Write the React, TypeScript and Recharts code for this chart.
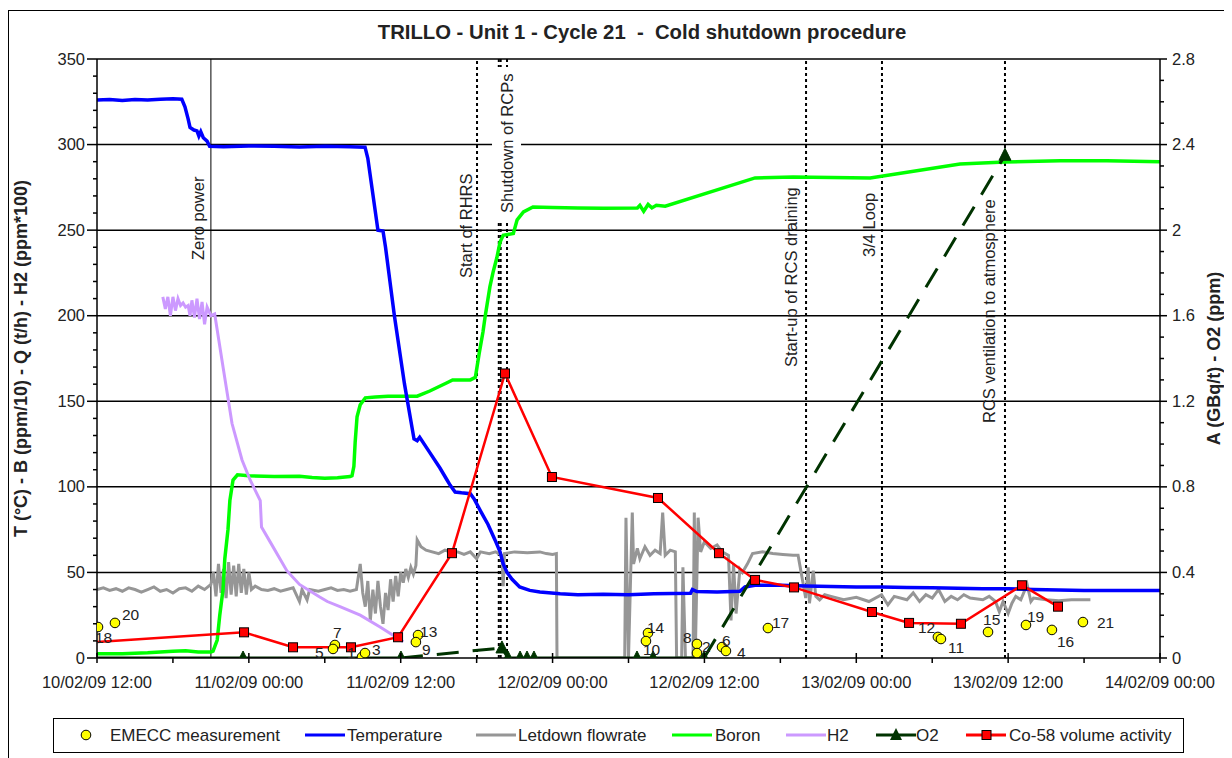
import {
  CartesianGrid,
  ComposedChart,
  Line,
  ReferenceLine,
  Scatter,
  XAxis,
  YAxis,
} from "recharts";

const FONT = "Arial, 'Liberation Sans', Helvetica, sans-serif";
const INK = "#222";

// x is hours after 10/02/09 12:00
const xTickHours = [0, 6, 12, 18, 24, 30, 36, 42, 48, 54, 60, 66, 72, 78, 84];
const xMajorHours = [0, 12, 24, 36, 48, 60, 72, 84];
const xTickLabels = [
  "10/02/09 12:00",
  "11/02/09 00:00",
  "11/02/09 12:00",
  "12/02/09 00:00",
  "12/02/09 12:00",
  "13/02/09 00:00",
  "13/02/09 12:00",
  "14/02/09 00:00",
];

const leftTicks = [
  0, 10, 20, 30, 40, 50, 60, 70, 80, 90, 100, 110, 120, 130, 140, 150, 160, 170,
  180, 190, 200, 210, 220, 230, 240, 250, 260, 270, 280, 290, 300, 310, 320, 330,
  340, 350,
];
const leftGridValues = [50, 100, 150, 200, 250, 300, 350];
const rightTicks = [
  0, 0.1, 0.2, 0.3, 0.4, 0.5, 0.6, 0.7, 0.8, 0.9, 1, 1.1, 1.2, 1.3, 1.4, 1.5,
  1.6, 1.7, 1.8, 1.9, 2, 2.1, 2.2, 2.3, 2.4, 2.5, 2.6, 2.7, 2.8,
];

type Pt = [number, number];

const temperature: Pt[] = [
  [0, 326], [1, 326.4], [2, 325.8], [3, 326.3], [4, 326], [5, 326.5], [6, 326.8],
  [6.7, 326.5], [6.95, 322], [7.2, 315], [7.35, 310], [7.66, 308.5], [7.9, 308],
  [8.05, 305], [8.2, 307.5], [8.4, 304], [8.7, 302], [8.9, 299], [10, 298.8],
  [12, 299.2], [14, 299], [16, 298.6], [18, 299], [20, 298.7], [21.18, 298.5],
  [21.4, 292], [22.2, 250], [22.6, 249.5], [22.8, 240], [23.5, 200], [24.3, 160],
  [25.05, 128], [25.3, 127], [25.5, 129], [26.3, 120], [27.1, 111], [27.66, 104],
  [27.9, 101], [28.3, 97], [28.8, 96.5], [29.5, 96], [29.8, 93], [30.3, 86],
  [30.9, 78], [31.45, 69], [31.85, 62], [32.1, 55], [32.4, 50], [32.8, 46],
  [33.4, 41.5], [34.2, 39.5], [35, 38.6], [36.6, 37.5], [38, 37], [40, 37.2],
  [42, 37], [44, 37.5], [46.9, 37.8], [47.05, 40], [47.4, 38.8], [49, 38.5],
  [50.8, 39], [51.2, 41.5], [52, 42.5], [54, 42.5], [56, 42], [58, 41.8],
  [60, 41.5], [62, 41.5], [64, 41.2], [66, 41], [68, 40.8], [70, 40.5],
  [72, 40.5], [74, 40], [76, 39.8], [78, 39.5], [84, 39.5],
];

const letdownFlow: Pt[] = [
  [0, 40], [0.5, 41], [1, 39.5], [1.5, 40.5], [2, 39], [2.5, 41], [3, 40],
  [3.5, 38.5], [4, 40], [4.5, 41.5], [5, 39], [5.5, 40], [6, 38], [6.5, 40.5],
  [7, 41], [7.5, 39], [8, 42], [8.5, 40], [9, 43], [9.2, 50], [9.4, 36],
  [9.6, 55], [9.8, 38], [10, 52], [10.2, 35], [10.4, 56], [10.6, 37], [10.8, 54],
  [11, 36], [11.2, 55], [11.4, 38], [11.6, 52], [11.8, 37], [12, 50], [12.2, 40],
  [12.5, 42], [13, 40], [13.5, 39.5], [14, 40.5], [14.5, 39], [15, 40],
  [15.5, 41], [16, 33], [16.2, 40], [16.6, 34], [16.8, 40], [17.5, 39], [18, 40],
  [18.5, 41], [19, 39.5], [19.5, 40], [20, 39], [20.5, 40], [20.8, 55], [21, 38],
  [21.2, 30], [21.4, 45], [21.6, 22], [21.8, 40], [22, 26], [22.2, 45],
  [22.4, 30], [22.6, 20], [22.8, 38], [23, 28], [23.2, 46], [23.4, 33],
  [23.6, 48], [23.8, 36], [24, 50], [24.2, 44], [24.4, 52], [24.6, 47],
  [24.8, 53], [25, 49], [25.2, 54], [25.3, 69], [25.6, 65], [26, 63], [27, 61],
  [27.5, 63], [28, 62], [28.5, 62], [29, 60.5], [29.5, 62], [30, 58], [30.3, 62],
  [31, 61], [31.5, 62], [32, 60], [32.1, 42], [32.2, 61], [33, 62], [34, 61.5],
  [35, 62], [35.5, 61], [36, 60.5], [36.3, 61], [36.35, 0], [41.7, 0], [41.8, 82],
  [42, 0], [42.3, 85], [42.4, 55], [42.7, 64], [42.9, 58], [43.3, 65], [43.7, 60],
  [44.1, 63], [44.5, 61], [44.7, 85], [44.9, 60], [45.3, 63], [45.7, 62],
  [45.8, 0], [46.2, 0], [46.3, 53], [46.5, 0], [47.1, 0], [47.2, 85], [47.3, 10],
  [47.5, 82], [47.7, 62], [48, 68], [48.5, 64], [49, 66], [49.4, 62], [49.9, 60],
  [50.1, 22], [50.3, 55], [50.5, 26], [50.8, 52], [51, 50], [51.4, 55],
  [51.8, 61], [52.6, 62], [53.4, 61], [54.2, 60.5], [55, 60], [55.4, 60],
  [56, 35], [56.2, 53], [56.3, 32], [56.6, 51], [56.8, 36], [57.1, 34],
  [57.5, 37], [58, 36], [59, 34], [60, 35.5], [61, 33], [62, 37], [62.5, 31],
  [63, 36], [64, 34], [64.5, 38], [65, 33], [65.5, 37], [66, 35], [66.5, 40],
  [67, 33], [67.5, 36], [68, 34], [68.5, 37], [69, 35], [70, 34], [70.5, 36],
  [71, 33], [71.3, 27], [71.6, 33], [72, 26], [72.3, 32], [72.6, 36], [73, 34],
  [73.5, 43], [73.8, 33], [74, 35], [75, 34], [76, 33.5], [77, 34], [78, 34],
  [78.5, 34],
];

const boron: Pt[] = [
  [0, 2.5], [2, 2.5], [4, 3], [5, 3.5], [6, 4], [7, 4.2], [8, 3.5], [9, 3.5],
  [9.17, 4], [9.5, 10.5], [9.7, 25], [9.96, 40], [10.1, 58], [10.35, 75],
  [10.5, 92], [10.75, 104], [11.1, 107], [12, 106.5], [14, 106], [16, 106.2],
  [17, 105.5], [18, 105], [19, 105.3], [20, 106], [20.15, 106.5], [20.3, 112],
  [20.4, 126], [20.55, 141], [20.8, 148], [21.2, 152], [22, 152.5], [23, 153],
  [24, 153], [25.3, 153], [26.3, 156], [27.7, 161], [28.1, 162.5], [29.5, 162.5],
  [29.9, 164], [30.2, 178], [30.5, 190.5], [30.66, 199], [31.05, 217],
  [31.3, 225.5], [31.6, 234], [31.85, 243], [32.1, 247], [32.9, 248],
  [33.2, 256], [33.7, 260.6], [34.45, 263.5], [36, 263.2], [38, 263],
  [40, 262.8], [42.7, 263], [42.9, 264.5], [43.2, 261], [43.55, 265],
  [43.85, 263], [44.2, 264.5], [44.9, 264], [52, 280.5], [55, 281],
  [61.1, 280.5], [68.2, 288.6], [71.75, 289.8], [76.1, 290.6], [79.8, 290.6],
  [84, 290],
];

const hydrogen: Pt[] = [
  [5.2, 211], [5.4, 204], [5.6, 211], [5.8, 200], [6, 211], [6.2, 203],
  [6.4, 210], [6.6, 206], [6.8, 207.5], [7, 205], [7.2, 206], [7.35, 200],
  [7.5, 209], [7.7, 199], [7.9, 210], [8.1, 198], [8.3, 208], [8.5, 195],
  [8.7, 205], [9, 200], [9.3, 201], [9.96, 170], [10.67, 137], [11.46, 115.7],
  [12.1, 104], [12.9, 92], [13, 76.5], [13.67, 68], [15, 51], [16, 43],
  [17.6, 35.6], [18.2, 33], [19.2, 30], [20.8, 25], [22.4, 18], [24.2, 9.5],
];

// right axis (GBq/t)
const co58: Pt[] = [
  [0, 0.075], [11.62, 0.12], [15.49, 0.05], [20.07, 0.05], [23.79, 0.097],
  [28.05, 0.49], [32.24, 1.33], [35.95, 0.846], [44.33, 0.748], [49.15, 0.49],
  [52, 0.365], [55.08, 0.33], [61.24, 0.215], [64.17, 0.164], [68.27, 0.16],
  [73.09, 0.34], [75.94, 0.24],
];

// right axis (ppm); dashed = segment leading into that point is dashed
const o2Hours = [0, 11.54, 24.02, 32.0, 32.48, 33.43, 33.98, 34.53, 42.67, 43.94, 47.97, 71.75];
const o2Values = [0, 0, 0, 0.047, 0, 0, 0, 0, 0, 0, 0, 2.35];
const o2Dashed = [false, false, false, true, false, false, false, false, false, false, false, true];

const emeccIds = ["18", "20", "7", "5", "1", "3", "13", "9", "14", "10", "8", "2", "6", "4", "17", "12", "11", "15", "19", "16", "21"];
const emeccHours = [0.08, 1.42, 18.8, 18.65, 20.94, 21.18, 25.37, 25.2, 43.54, 43.38, 47.41, 47.41, 49.39, 49.7, 53.02, 66.45, 66.69, 70.41, 73.41, 75.46, 77.91];
const emeccValues = [18.1, 20.5, 7.6, 5.3, 0.6, 2.9, 13.4, 9.3, 14.6, 9.9, 8.2, 2.9, 6.4, 4.1, 17.5, 12.3, 11.1, 15.2, 19.3, 16.4, 21];

const events = [
  { h: 9.0, text: "Zero power" },
  { h: 30.03, text: "Start of RHRS" },
  { h: 31.75, text: "" },
  { h: 31.9, text: "" },
  { h: 32.4, text: "Shutdown of RCPs" },
  { h: 56.03, text: "Start-up of RCS draining" },
  { h: 62.03, text: "3/4 Loop" },
  { h: 71.75, text: "RCS ventilation to atmosphere" },
];

// the "Shutdown of RCPs" text box hides these lines between two left-axis values
const shutdownBoxSpan: [number, number] = [254.8, 344.7];
const boxedEventHours = [31.75, 31.9, 32.4];

// label placement (px from the event line / plot top)
const eventLabelLayout: Record<string, { dx: number; start: number; box?: number }> = {
  "Zero power": { dx: -7, start: 201 },
  "Start of RHRS": { dx: -5, start: 219 },
  "Shutdown of RCPs": { dx: 6, start: 154, box: 140 },
  "Start-up of RCS draining": { dx: -9, start: 308 },
  "3/4 Loop": { dx: -7, start: 198 },
  "RCS ventilation to atmosphere": { dx: -10, start: 364 },
};

const emeccLabelOffset: Record<string, [number, number]> = {
  "18": [-3, 16], "20": [7, -3], "7": [-2, -7], "5": [-18, 9], "1": [-15, 1],
  "3": [7, 2], "13": [2, 2], "9": [6, 13], "14": [-1, 0], "10": [-3, 14],
  "8": [-14, -1], "2": [5, -1], "6": [0, -1], "4": [11, 7], "17": [4, 0],
  "12": [-20, -4], "11": [7, 14], "15": [-5, -7], "19": [1, -3], "16": [5, 17],
  "21": [14, 6],
};

const rows = (pts: Pt[]) => pts.map(([h, v]) => ({ h, v }));

function o2Runs() {
  const runs: { dashed: boolean; pts: { h: number; v: number }[] }[] = [];
  for (let i = 1; i < o2Hours.length; i++) {
    const a = { h: o2Hours[i - 1], v: o2Values[i - 1] };
    const b = { h: o2Hours[i], v: o2Values[i] };
    const last = runs[runs.length - 1];
    if (last && last.dashed === o2Dashed[i]) last.pts.push(b);
    else runs.push({ dashed: o2Dashed[i], pts: [a, b] });
  }
  return runs;
}

const o2Markers = o2Hours.slice(1).map((h, i) => ({ h, v: o2Values[i + 1] }));
const emeccRows = emeccIds.map((id, i) => ({ id, h: emeccHours[i], v: emeccValues[i] }));

function LeftTick({ x, y, payload }: any) {
  const v = payload.value;
  const major = v % 50 === 0;
  return (
    <g>
      <line x1={x - (major ? 10 : 4)} x2={x} y1={y} y2={y} stroke="#000" strokeWidth={1.5} />
      {major && (
        <text x={x - 12} y={y + 5.5} textAnchor="end" fontSize={16.5} fill={INK} fontFamily={FONT}>
          {v}
        </text>
      )}
    </g>
  );
}

function RightTick({ x, y, payload }: any) {
  const v = payload.value;
  const major = Math.round(v * 10) % 4 === 0;
  return (
    <g>
      <line x1={x} x2={x + (major ? 7 : 4)} y1={y} y2={y} stroke="#000" strokeWidth={1.5} />
      {major && (
        <text x={x + 12} y={y + 5.5} textAnchor="start" fontSize={16.5} fill={INK} fontFamily={FONT}>
          {String(Number(v.toFixed(1)))}
        </text>
      )}
    </g>
  );
}

function XTick({ x, y, payload }: any) {
  const idx = xMajorHours.indexOf(payload.value);
  if (idx < 0) {
    return <line x1={x} x2={x} y1={y} y2={y + 5} stroke="#000" strokeWidth={1.5} />;
  }
  return (
    <g>
      <line x1={x} x2={x} y1={y - 5} y2={y + 5} stroke="#000" strokeWidth={1.5} />
      <text x={x} y={y + 30} textAnchor="middle" fontSize={16.5} fill={INK} fontFamily={FONT}>
        {xTickLabels[idx]}
      </text>
    </g>
  );
}

function AxisTitle({ viewBox, text, side }: any) {
  if (!viewBox) return null;
  const x = side === "left" ? viewBox.x - 10 : viewBox.x + viewBox.width + 10;
  const y = viewBox.y + viewBox.height / 2;
  return (
    <text
      x={x}
      y={y}
      transform={`rotate(-90, ${x}, ${y})`}
      textAnchor="middle"
      fontSize={18}
      fontWeight="bold"
      fill={INK}
      fontFamily={FONT}
    >
      {text}
    </text>
  );
}

function EventLabel({ viewBox, text }: any) {
  const layout = eventLabelLayout[text];
  if (!viewBox || !layout) return null;
  const x = viewBox.x + layout.dx;
  const y = viewBox.y + layout.start;
  return (
    <g transform={`rotate(-90, ${x}, ${y})`}>
      {layout.box && (
        <rect x={x - 6} y={y - 21} width={layout.box + 12} height={29} fill="#fff" />
      )}
      <text x={x} y={y} fontSize={16.5} fill={INK} fontFamily={FONT}>
        {text}
      </text>
    </g>
  );
}

function EmeccDot({ cx, cy, payload }: any) {
  const [dx, dy] = emeccLabelOffset[payload.id] || [6, 0];
  return (
    <g>
      <circle cx={cx} cy={cy} r={4.8} fill="#FFFF00" stroke="#000" strokeWidth={1} />
      <text x={cx + dx} y={cy + dy} fontSize={15.5} fill={INK} fontFamily={FONT}>
        {payload.id}
      </text>
    </g>
  );
}

function Triangle({ cx, cy }: any) {
  return (
    <polygon
      points={`${cx},${cy - 7} ${cx - 6},${cy + 5} ${cx + 6},${cy + 5}`}
      fill="#003300"
      stroke="#003300"
    />
  );
}

function Co58Dot(props: any) {
  const { cx, cy, index } = props;
  if (index === 0) return <g key={`co-${index}`} />;
  return (
    <rect
      key={`co-${index}`}
      x={cx - 4.5}
      y={cy - 4.5}
      width={9}
      height={9}
      fill="#FF0000"
      stroke="#000"
      strokeWidth={1}
    />
  );
}

const legendItems = [
  { name: "EMECC measurement", kind: "circle", color: "#FFFF00", x0: 28, text: 56 },
  { name: "Temperature", kind: "line", color: "#0000FF", x0: 251, text: 293 },
  { name: "Letdown flowrate", kind: "line", color: "#969696", x0: 422, text: 464 },
  { name: "Boron", kind: "line", color: "#00FF00", x0: 618, text: 661 },
  { name: "H2", kind: "line", color: "#CC99FF", x0: 732, text: 773 },
  { name: "O2", kind: "triangle", color: "#003300", x0: 822, text: 862 },
  { name: "Co-58 volume activity", kind: "square", color: "#FF0000", x0: 912, text: 955 },
];

function ChartLegend() {
  const cy = 16;
  return (
    <div
      style={{
        position: "absolute",
        left: 44,
        top: 707,
        width: 1131,
        height: 35,
        border: "1px solid #000",
        boxSizing: "border-box",
        background: "#fff",
      }}
    >
      <svg width={1129} height={33} style={{ display: "block" }}>
        {legendItems.map((it) => (
          <g key={it.name}>
            {it.kind === "circle" ? (
              <circle cx={it.x0 + 4} cy={cy} r={4.8} fill={it.color} stroke="#000" />
            ) : (
              <line x1={it.x0} x2={it.x0 + 40} y1={cy} y2={cy} stroke={it.color} strokeWidth={3} />
            )}
            {it.kind === "triangle" && (
              <polygon
                points={`${it.x0 + 20},${cy - 7} ${it.x0 + 14},${cy + 5} ${it.x0 + 26},${cy + 5}`}
                fill={it.color}
              />
            )}
            {it.kind === "square" && (
              <rect x={it.x0 + 16} y={cy - 4.5} width={9} height={9} fill={it.color} stroke="#000" />
            )}
            <text x={it.text} y={cy + 6} fontSize={17} fill={INK} fontFamily={FONT}>
              {it.name}
            </text>
          </g>
        ))}
      </svg>
    </div>
  );
}

export default function App() {
  const runs = o2Runs();
  return (
    <div
      style={{
        position: "relative",
        top: 2,
        width: 1219,
        height: 760,
        border: "1px solid #000",
        background: "#fff",
        fontFamily: FONT,
      }}
    >
      <div
        style={{
          position: "absolute",
          left: 633,
          top: 10,
          transform: "translateX(-50%)",
          whiteSpace: "pre",
          fontSize: 20.3,
          fontWeight: "bold",
          color: INK,
          lineHeight: "22px",
        }}
      >
        {"TRILLO - Unit 1 - Cycle 21  -  Cold shutdown procedure"}
      </div>
      <ComposedChart
        width={1219}
        height={748}
        margin={{ top: 48, right: 18, bottom: 71, left: 28 }}
        style={{ position: "absolute", left: 0, top: 0 }}
      >
        <CartesianGrid
          yAxisId="left"
          vertical={false}
          horizontalValues={leftGridValues}
          stroke="#000"
          strokeWidth={1.5}
        />
        <XAxis
          dataKey="h"
          type="number"
          domain={[0, 84]}
          ticks={xTickHours}
          interval={0}
          allowDataOverflow
          height={30}
          tickSize={0}
          tickMargin={0}
          tickLine={false}
          axisLine={{ stroke: "#000", strokeWidth: 1.5 }}
          tick={(p: any) => <XTick {...p} />}
        />
        <YAxis
          yAxisId="left"
          type="number"
          domain={[0, 350]}
          ticks={leftTicks}
          interval={0}
          allowDataOverflow
          width={60}
          tickSize={0}
          tickMargin={0}
          tickLine={false}
          axisLine={{ stroke: "#000", strokeWidth: 1.5 }}
          tick={(p: any) => <LeftTick {...p} />}
          label={<AxisTitle side="left" text="T (°C) - B (ppm/10) - Q (t/h) - H2 (ppm*100)" />}
        />
        <YAxis
          yAxisId="right"
          orientation="right"
          type="number"
          domain={[0, 2.8]}
          ticks={rightTicks}
          interval={0}
          allowDataOverflow
          width={50}
          tickSize={0}
          tickMargin={0}
          tickLine={false}
          axisLine={{ stroke: "#000", strokeWidth: 1.5 }}
          tick={(p: any) => <RightTick {...p} />}
          label={<AxisTitle side="right" text="A (GBq/t) - O2 (ppm)" />}
        />
        {events.map((ev, i) => {
          const style = {
            stroke: "#000",
            strokeWidth: i === 0 ? 1 : 2,
            strokeDasharray: i === 0 ? undefined : "3 3",
          };
          if (boxedEventHours.includes(ev.h)) {
            return [
              <ReferenceLine
                key={`ev-${i}-a`}
                yAxisId="left"
                segment={[{ x: ev.h, y: 0 }, { x: ev.h, y: shutdownBoxSpan[0] }]}
                {...style}
              />,
              <ReferenceLine
                key={`ev-${i}-b`}
                yAxisId="left"
                segment={[{ x: ev.h, y: shutdownBoxSpan[1] }, { x: ev.h, y: 350 }]}
                {...style}
              />,
            ];
          }
          return <ReferenceLine key={`ev-${i}`} x={ev.h} yAxisId="left" {...style} />;
        })}
        {events
          .filter((ev) => ev.text)
          .map((ev) => (
            <ReferenceLine
              key={`lbl-${ev.text}`}
              x={ev.h}
              yAxisId="left"
              stroke="none"
              label={<EventLabel text={ev.text} />}
            />
          ))}
        <Line
          yAxisId="left"
          data={rows(letdownFlow)}
          dataKey="v"
          type="linear"
          stroke="#969696"
          strokeWidth={3}
          dot={false}
          activeDot={false}
          isAnimationActive={false}
        />
        <Line
          yAxisId="left"
          data={rows(boron)}
          dataKey="v"
          type="linear"
          stroke="#00FF00"
          strokeWidth={3.5}
          dot={false}
          activeDot={false}
          isAnimationActive={false}
        />
        <Line
          yAxisId="left"
          data={rows(hydrogen)}
          dataKey="v"
          type="linear"
          stroke="#CC99FF"
          strokeWidth={3}
          dot={false}
          activeDot={false}
          isAnimationActive={false}
        />
        <Line
          yAxisId="left"
          data={rows(temperature)}
          dataKey="v"
          type="linear"
          stroke="#0000FF"
          strokeWidth={3.5}
          dot={false}
          activeDot={false}
          isAnimationActive={false}
        />
        {runs.map((run, i) => (
          <Line
            key={`o2-${i}`}
            yAxisId="right"
            data={run.pts}
            dataKey="v"
            type="linear"
            stroke="#003300"
            strokeWidth={3}
            strokeDasharray={run.dashed ? "22 14" : undefined}
            dot={false}
            activeDot={false}
            isAnimationActive={false}
          />
        ))}
        <Scatter
          yAxisId="right"
          data={o2Markers}
          dataKey="v"
          shape={(p: any) => <Triangle {...p} />}
          isAnimationActive={false}
        />
        <Line
          yAxisId="right"
          data={rows(co58)}
          dataKey="v"
          type="linear"
          stroke="#FF0000"
          strokeWidth={2.5}
          dot={(p: any) => <Co58Dot {...p} />}
          activeDot={false}
          isAnimationActive={false}
        />
        <Scatter
          yAxisId="left"
          data={emeccRows}
          dataKey="v"
          shape={(p: any) => <EmeccDot {...p} />}
          isAnimationActive={false}
        />
      </ComposedChart>
      <ChartLegend />
    </div>
  );
}
